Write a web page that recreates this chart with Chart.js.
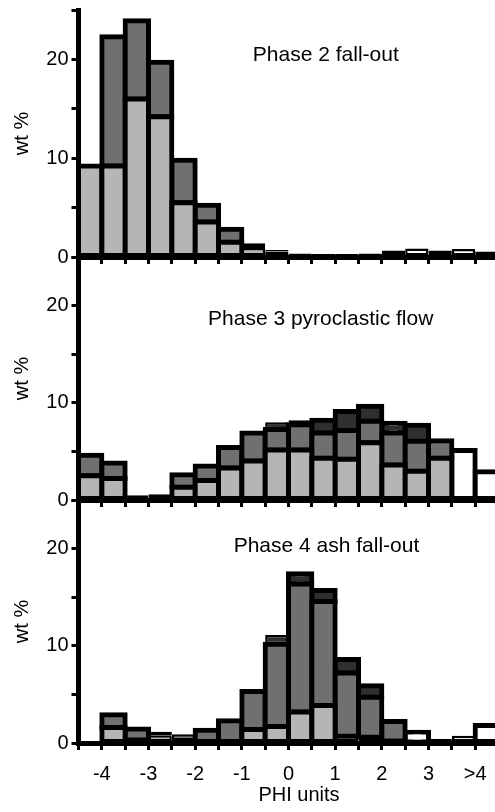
<!DOCTYPE html>
<html>
<head>
<meta charset="utf-8">
<script src="https://cdn.jsdelivr.net/npm/chart.js@4.4.0/dist/chart.umd.min.js"></script>
<style>
html, body { margin: 0; padding: 0; background: #ffffff; }
body { width: 495px; height: 812px; overflow: hidden; position: relative; font-family: "Liberation Sans", Arial, sans-serif; }
canvas { position: absolute; left: 0; }
.lbl { position: absolute; white-space: nowrap; color: #000; text-align: center; width: 300px; height: 24px; line-height: 24px; font-size: 21px; }
</style>
</head>
<body>
<canvas id="c1" width="520" height="292" style="top:-20px"></canvas>
<canvas id="c2" width="520" height="278" style="top:237px"></canvas>
<canvas id="c3" width="520" height="332" style="top:480px"></canvas>
<div class="lbl" style="left:175.8px;top:41.8px">Phase 2 fall-out</div>
<div class="lbl" style="left:170.7px;top:306.3px">Phase 3 pyroclastic flow</div>
<div class="lbl" style="left:176.5px;top:533.3px">Phase 4 ash fall-out</div>
<div class="lbl" style="left:149px;top:782.2px;font-size:20px">PHI units</div>
<script>
// ---- data ----
const binCenters = [-4.25, -3.75, -3.25, -2.75, -2.25, -1.75, -1.25, -0.75, -0.25,
                    0.25, 0.75, 1.25, 1.75, 2.25, 2.75, 3.25, 3.75, 4.25];
const xTickValues = [-4, -3, -2, -1, 0, 1, 2, 3, 4];
const xTickLabels = ['-4', '-3', '-2', '-1', '0', '1', '2', '3', '>4'];
const yTickLabelValues = [0, 10, 20];
const yAxisTitle = 'wt %';

// Phase 2 fall-out
const phase2Light = [9.2, 9.2, 16.0, 14.2, 5.5, 3.55, 1.5, 0.9, 0.55, 0, 0, 0, 0, 0, 0, 0, 0, 0];
const phase2Mid   = [0, 13.1, 7.9, 5.5, 4.3, 1.7, 1.3, 0.5, 0.15, 0.35, 0.3, 0.3, 0.35, 0, 0, 0, 0, 0];
const phase2Dark  = [0, 0, 0, 0, 0, 0, 0, 0, 0, 0, 0, 0, 0, 0, 0, 0, 0, 0];
const phase2White = [0, 0, 0, 0, 0, 0, 0, 0, 0, 0, 0, 0, 0, 0.65, 0.85, 0.65, 0.8, 0.55];

// Phase 3 pyroclastic flow
const phase3Light = [2.5, 2.2, 0, 0, 1.3, 2.0, 3.3, 4.0, 5.15, 5.15, 4.3, 4.2, 5.9, 3.6, 2.95, 4.3, 0, 0];
const phase3Mid   = [2.1, 1.6, 0.5, 0.6, 1.3, 1.5, 2.1, 2.9, 2.1, 2.6, 2.6, 2.95, 2.2, 3.3, 3.1, 1.8, 0, 0];
const phase3Dark  = [0, 0, 0, 0, 0, 0, 0, 0, 0.75, 0.45, 1.3, 1.95, 1.55, 1.0, 1.65, 0, 0, 0];
const phase3White = [0, 0, 0, 0, 0, 0, 0, 0, 0, 0, 0, 0, 0, 0, 0, 0, 5.1, 2.9];

// Phase 4 ash fall-out
const phase4Light = [0, 1.6, 0.3, 0.8, 0.3, 0, 0, 1.4, 1.7, 3.2, 3.85, 0.7, 0.6, 0.2, 0, 0, 0, 0];
const phase4Mid   = [0, 1.3, 1.15, 0.35, 0.6, 1.3, 2.3, 3.9, 8.45, 13.15, 10.7, 6.5, 4.1, 2.0, 0, 0, 0, 0];
const phase4Dark  = [0, 0, 0, 0, 0, 0, 0, 0, 0.95, 1.05, 1.15, 1.4, 1.2, 0, 0, 0, 0, 0];
const phase4White = [0, 0, 0, 0, 0, 0, 0, 0, 0, 0, 0, 0, 0, 0, 1.1, 0.4, 0.75, 1.8];

// ---- styling ----
const FONT = '"Liberation Sans", Arial, sans-serif';
const fills = { light: '#b5b5b5', mid: '#707070', dark: '#2f2f2f', white: '#ffffff' };

function points(arr) {
  return binCenters.map((x, i) => ({ x: x, y: arr[i] > 0 ? arr[i] : null }));
}

// segments tall enough get a 5px stroke centred on their edges; short ones keep an inner stroke
function isTall(c) { return !!(c && c.raw && c.raw.y >= 1.0); }

function dataset(label, arr, color) {
  return {
    label: label,
    data: points(arr),
    backgroundColor: color,
    borderColor: '#000000',
    borderWidth: function (c) { return isTall(c) ? 5 : 2.5; },
    inflateAmount: function (c) { return isTall(c) ? 2.5 : 0; },
    borderSkipped: false,
    barPercentage: 1.0,
    categoryPercentage: 1.0,
    stack: 'wt'
  };
}

function makeChart(id, light, mid, dark, white, cfg) {
  const ctx = document.getElementById(id).getContext('2d');
  return new Chart(ctx, {
    type: 'bar',
    data: {
      datasets: [
        dataset('light fraction', light, fills.light),
        dataset('grey fraction', mid, fills.mid),
        dataset('dark fraction', dark, fills.dark),
        dataset('white fraction', white, fills.white)
      ]
    },
    options: {
      responsive: false,
      animation: false,
      devicePixelRatio: 1,
      layout: { padding: { left: 0, right: 21.5, top: cfg.padTop, bottom: 0 } },
      plugins: { legend: { display: false }, tooltip: { enabled: false }, title: { display: false } },
      scales: {
        x: {
          type: 'linear',
          min: -4.5,
          max: 4.5,
          stacked: true,
          offset: false,
          ticks: {
            display: cfg.showX,
            stepSize: 0.5,
            autoSkip: false,
            maxRotation: 0,
            minRotation: 0,
            padding: 12,
            color: '#000',
            font: { family: FONT, size: 20 },
            callback: function (v) {
              const i = xTickValues.indexOf(v);
              return i >= 0 ? xTickLabels[i] : '';
            }
          },
          grid: {
            offset: false,
            drawOnChartArea: false,
            drawTicks: true,
            tickLength: 7,
            tickWidth: 3,
            tickColor: '#000',
            color: '#000',
            lineWidth: 3
          },
          border: { display: true, color: '#000', width: 5 },
          afterFit: function (s) { s.height = cfg.xHeight; }
        },
        y: {
          type: 'linear',
          position: 'left',
          min: 0,
          max: 25,
          stacked: true,
          ticks: {
            stepSize: 5,
            autoSkip: false,
            padding: 3,
            color: '#000',
            font: { family: FONT, size: 20 },
            callback: function (v) { return yTickLabelValues.includes(v) ? String(v) : ''; }
          },
          grid: {
            drawOnChartArea: false,
            drawTicks: true,
            tickLength: 7,
            tickWidth: 3,
            tickColor: '#000',
            color: '#000',
            lineWidth: 3
          },
          border: { display: true, color: '#000', width: 5 },
          title: {
            display: true,
            text: yAxisTitle,
            color: '#000',
            font: { family: FONT, size: 20 },
            padding: { top: 10.5, bottom: 0 }
          },
          afterFit: function (s) { s.width = 78.5; }
        }
      }
    }
  });
}

makeChart('c1', phase2Light, phase2Mid, phase2Dark, phase2White, { padTop: 30, xHeight: 15, showX: false });
makeChart('c2', phase3Light, phase3Mid, phase3Dark, phase3White, { padTop: 20, xHeight: 15, showX: false });
makeChart('c3', phase4Light, phase4Mid, phase4Dark, phase4White, { padTop: 20, xHeight: 69, showX: true });
</script>
</body>
</html>
